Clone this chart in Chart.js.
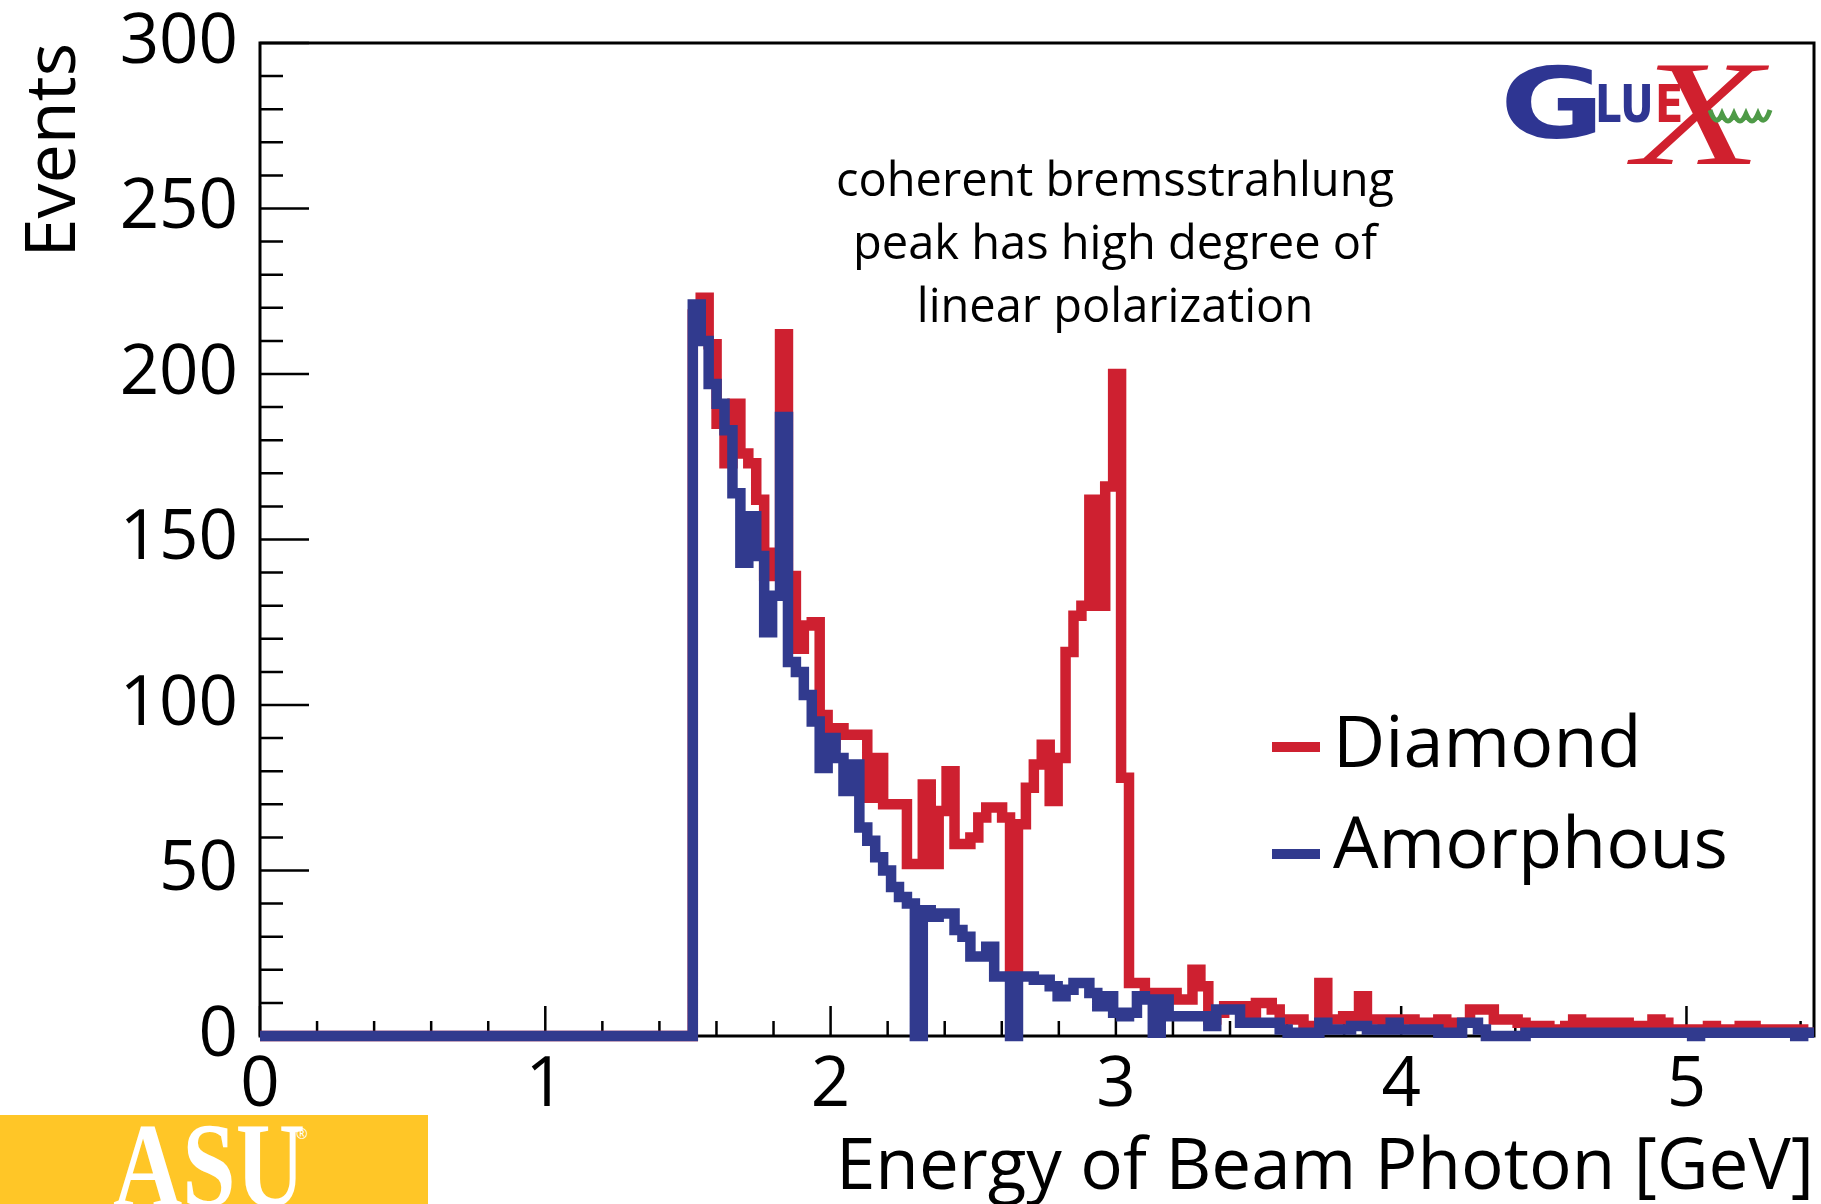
<!DOCTYPE html>
<html>
<head>
<meta charset="utf-8">
<title>Energy of Beam Photon</title>
<script src="https://cdn.jsdelivr.net/npm/chart.js@4.4.1/dist/chart.umd.min.js"></script>
<style>
html,body{margin:0;padding:0;background:#fff;}
#wrap{position:relative;width:1821px;height:1204px;overflow:hidden;font-family:"Open Sans",sans-serif;color:#000;}
#chart{position:absolute;left:0;top:0;}
.note{position:absolute;left:815px;top:147px;width:600px;text-align:center;font-size:47px;line-height:63px;}
.key{position:absolute;left:1333px;font-size:72px;line-height:72px;white-space:nowrap;}
.swatch{position:absolute;left:1272px;width:48px;height:10px;}
.gx{position:absolute;white-space:nowrap;line-height:1;font-weight:bold;}
#asu{position:absolute;left:0;top:1115px;width:428px;height:89px;background:#FFC627;overflow:hidden;}
#asu span{position:absolute;color:#fff;white-space:nowrap;line-height:1;}
</style>
</head>
<body>
<div id="wrap">
  <canvas id="chart" width="1821" height="1204"></canvas>

  <div class="note">coherent bremsstrahlung<br>peak has high degree of<br>linear polarization</div>

  <div class="swatch" style="top:742px;background:#CE2030;"></div>
  <div class="key" style="top:703px;">Diamond</div>
  <div class="swatch" style="top:849px;background:#313A8E;"></div>
  <div class="key" style="top:804px;">Amorphous</div>

  <!-- GlueX logo -->
  <div class="gx" style="left:1500px;top:55px;font-family:'DejaVu Sans';font-size:98px;color:#2E3592;transform:scaleX(1.3);transform-origin:left;">G</div>
  <div class="gx" style="left:1595px;top:78px;font-family:'DejaVu Sans';font-size:52px;color:#2E3592;transform:scaleX(0.8);transform-origin:left;">LU</div>
  <div class="gx" style="left:1655px;top:78px;font-family:'DejaVu Sans';font-size:52px;color:#D0202E;transform:scaleX(0.8);transform-origin:left;">E</div>
  <div class="gx" style="left:1634px;top:38px;font-family:'Liberation Serif';font-style:italic;font-weight:normal;font-size:150px;color:#D0202E;transform:scaleX(1.4);transform-origin:left;">X</div>
  <svg style="position:absolute;left:1708px;top:102px;" width="68" height="24" viewBox="0 0 68 24">
    <path d="M2 8 Q8 26 14 12 Q20 26 26 12 Q32 26 38 12 Q44 26 50 12 Q56 26 62 8" fill="none" stroke="#4E9A47" stroke-width="5"/>
  </svg>

  <!-- ASU logo -->
  <div id="asu">
    <span style="left:113px;top:-9px;font-family:'Liberation Serif';font-weight:bold;font-size:120px;transform:scaleX(0.8);transform-origin:left;">ASU</span>
    <span style="left:296px;top:12px;font-size:14px;">®</span>
  </div>
</div>

<script>
// histogram binning (GeV)
const binStart = 1.517;
const binWidth = 0.0278;

// events per bin, diamond radiator
const diamond = [
  218,223,209,185,173,191,176,173,162,139,146,
  212,139,117,124,125,97,88,93,91,91,
  91,72,84,70,70,70,52,52,76,52,
  68,80,58,58,60,66,69,69,66,18,
  64,75,82,88,71,84,116,127,130,162,
  130,166,200,78,16,16,13,13,13,13,
  11,11,20,15,5,7,9,9,9,7,
  10,10,8,5,5,5,3,3,16,5,
  5,6,6,12,5,5,4,5,5,5,
  4,4,4,5,4,4,4,8,8,8,
  5,5,5,4,3,3,3,2,2,3,
  5,4,4,4,4,4,4,3,3,2,
  5,4,2,2,2,2,2,3,2,2,
  2,3,3,2,2,2,2,2,2,1,1
];

// events per bin, amorphous radiator
const amorphous = [
  221,210,197,191,183,164,143,157,145,122,133,
  187,113,110,103,95,81,90,84,74,82,
  63,59,54,50,45,42,40,0,38,36,
  37,37,32,30,24,24,27,18,18,0,
  18,18,17,17,15,12,14,16,16,13,
  9,12,7,6,7,12,11,1,11,6,
  6,6,6,6,3,8,8,8,4,4,
  4,4,4,2,1,1,1,1,4,2,
  2,2,3,3,2,2,2,4,2,2,
  2,2,2,1,1,1,4,4,2,0,
  0,0,0,0,1,1,1,1,1,1,
  1,1,1,1,1,1,1,1,1,1,
  1,1,1,1,1,0,1,1,1,1,
  1,1,1,1,1,1,1,1,0,1,1
];

const xTicks = [0, 1, 2, 3, 4, 5];
const yTicks = [0, 50, 100, 150, 200, 250, 300];
const xMinorStep = 0.2;
const yMinorStep = 10;
const xMax = 5.447;

// stepped outline: zero run-in, one point per bin low edge, closing edge
function histPoints(counts) {
  const pts = [{ x: 0, y: 0 }, { x: binStart, y: 0 }];
  counts.forEach((c, i) => pts.push({ x: binStart + i * binWidth, y: c }));
  pts.push({ x: binStart + counts.length * binWidth, y: counts[counts.length - 1] });
  return pts;
}

// frame box plus inward major/minor ticks, drawn under the histograms
const frame = {
  id: 'frame',
  beforeDatasetsDraw(chart) {
    const { ctx, chartArea: a, scales: { x, y } } = chart;
    ctx.save();
    ctx.strokeStyle = '#000';
    ctx.lineWidth = 3;
    ctx.strokeRect(a.left, a.top, a.right - a.left, a.bottom - a.top);
    ctx.lineWidth = 2.5;
    ctx.beginPath();
    for (let v = 0; v <= y.max; v += yMinorStep) {
      const py = y.getPixelForValue(v);
      const len = yTicks.includes(v) ? 49 : 23;
      ctx.moveTo(a.left, py);
      ctx.lineTo(a.left + len, py);
    }
    for (let i = 0; i * xMinorStep <= x.max; i++) {
      const px = x.getPixelForValue(i * xMinorStep);
      const len = i % 5 === 0 ? 30 : 15;
      ctx.moveTo(px, a.bottom);
      ctx.lineTo(px, a.bottom - len);
    }
    ctx.stroke();
    ctx.restore();
  }
};

// stepped: true holds each value until the next bin edge
const lineStyle = {
  stepped: true,
  fill: false,
  borderWidth: 10.5,
  borderJoinStyle: 'miter',
  borderCapStyle: 'butt',
  pointRadius: 0,
  clip: { left: 8, top: 8, right: 0, bottom: 8 }
};

Chart.defaults.font.family = "'Open Sans', sans-serif";
Chart.defaults.color = '#000';

new Chart(document.getElementById('chart'), {
  type: 'line',
  data: {
    datasets: [
      { ...lineStyle, label: 'Diamond', data: histPoints(diamond), borderColor: '#CE2030', order: 2 },
      { ...lineStyle, label: 'Amorphous', data: histPoints(amorphous), borderColor: '#313A8E', order: 1 }
    ]
  },
  options: {
    responsive: false,
    animation: false,
    devicePixelRatio: 1,
    layout: { padding: { top: 43, right: 7, left: 0, bottom: 0 } },
    plugins: { legend: { display: false }, tooltip: { enabled: false } },
    scales: {
      x: {
        type: 'linear',
        min: 0,
        max: xMax,
        grid: { display: false, drawTicks: false },
        border: { display: false },
        afterBuildTicks: s => { s.ticks = xTicks.map(v => ({ value: v })); },
        afterFit: s => { s.height = 168; s.paddingLeft = 0; s.paddingRight = 0; },
        ticks: { padding: 9, maxRotation: 0, autoSkip: false, font: { size: 69 } },
        title: { display: true, text: 'Energy of Beam Photon [GeV]', align: 'end', padding: 0, font: { size: 71, lineHeight: 1.0 } }
      },
      y: {
        min: 0,
        max: 300,
        grid: { display: false, drawTicks: false },
        border: { display: false },
        afterBuildTicks: s => { s.ticks = yTicks.map(v => ({ value: v })); },
        afterFit: s => { s.width = 260; s.paddingTop = 0; s.paddingBottom = 0; },
        ticks: { padding: 22, font: { size: 69 } },
        title: { display: true, text: 'Events', align: 'end', padding: { top: 13, bottom: 0 }, font: { size: 70 } }
      }
    }
  },
  plugins: [frame]
});
</script>
</body>
</html>
